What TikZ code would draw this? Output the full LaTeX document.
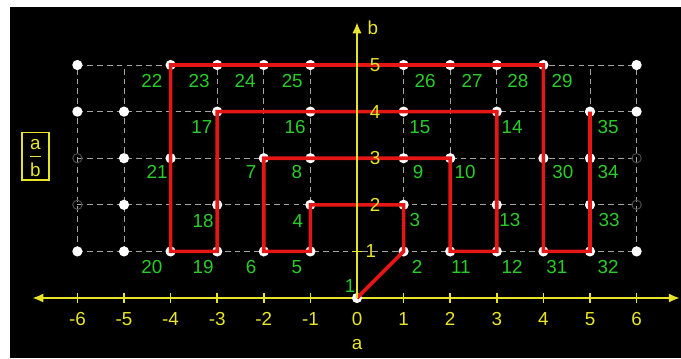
\documentclass[tikz,border=0pt]{standalone}
\usepackage{fontspec}
\setmainfont{Liberation Sans}
\usetikzlibrary{arrows.meta,calc}
\definecolor{kgreen}{RGB}{40,205,40}
\definecolor{kyellow}{RGB}{232,228,40}
\definecolor{kred}{RGB}{228,22,22}
\definecolor{kgrid}{RGB}{165,165,165}
\tikzset{
  gridline/.style={kgrid, line width=0.6pt, dash pattern=on 3.5pt off 2.5pt},
  axisline/.style={kyellow, line width=1.3pt},
  walk/.style={kred, line width=2.2pt},
  dot/.style={circle, fill=white, inner sep=0pt, minimum size=0.22cm},
  hollowdot/.style={circle, draw=kgrid!45!black, line width=0.6pt, inner sep=0pt, minimum size=0.2cm},
  numlabel/.style={kgreen, inner sep=0pt, anchor=center},
  axislabel/.style={kyellow, inner sep=0pt, anchor=center}
}
\begin{document}
\begin{tikzpicture}[x=1cm, y=1cm, font=\fontsize{11.5}{13}\selectfont]
\useasboundingbox (-7.661,-1.288) rectangle (6.953,6.395);
\fill[white] (-7.661,-1.288) rectangle (6.953,6.395);
\fill[black] (-7.446,-1.288) rectangle (6.953,6.245);

% grid
\foreach \x in {-6,...,-1,1,2,...,6} \draw[gridline] (\x,1) -- (\x,5);
\foreach \y in {1,...,5} \draw[gridline] (-6,\y) -- (6,\y);

% x axis
\coordinate (O) at (0,0);
\coordinate (xl) at (-6.97,0);
\coordinate (xr) at (6.93,0);
\coordinate (yt) at (0,5.92);
\draw[axisline, {Latex[length=0.24cm,width=0.2cm]}-{Latex[length=0.24cm,width=0.2cm]}] (xl) -- (xr);
\foreach \x in {-6,...,6} \draw[axisline, line width=1pt] (\x,-0.1) -- (\x,0.1);

% fraction box
\node[draw=kyellow, line width=0.8pt, minimum width=0.58cm, minimum height=1.02cm, inner sep=0pt] (fracbox) at (-6.9,3.04) {};
\node[axislabel] (fa) at ($(fracbox.center)+(0,0.26)$) {a};
\node[axislabel] (fb) at ($(fracbox.center)+(0,-0.28)$) {b};
\coordinate (fl) at ($(fracbox.center)+(-0.11,0)$);
\coordinate (fr) at ($(fracbox.center)+(0.11,0)$);
\draw[kyellow, line width=0.8pt] (fl) -- (fr);

% dots
\foreach \x in {-6,-4,-3,-2,-1,1,2,3,4,6} \node[dot] (d\x y5) at (\x,5) {};
\foreach \x in {-6,-5,-3,-1,1,3,5,6} \node[dot] (d\x y4) at (\x,4) {};
\foreach \x in {-5,-4,-2,-1,1,2,4,5} \node[dot] (d\x y3) at (\x,3) {};
\foreach \x in {-5,-3,-1,1,3,5} \node[dot] (d\x y2) at (\x,2) {};
\foreach \x in {-6,...,-1,1,2,...,6} \node[dot] (d\x y1) at (\x,1) {};
\node[dot] (d0y0) at (0,0) {};
\foreach \x/\y in {-6/3,6/3,-6/2,6/2} \node[hollowdot] (h\x y\y) at (\x,\y) {};

% red path
\foreach \i/\x/\y in {0/0/0,1/1/1,2/1/2,3/-1/2,4/-1/1,5/-2/1,6/-2/3,7/2/3,8/2/1,9/3/1,10/3/4,11/-3/4,12/-3/1,13/-4/1,14/-4/5,15/4/5,16/4/1,17/5/1,18/5/4}
  \coordinate (c\i) at (\x,\y);
\draw[walk] (c0) -- (c1) -- (c2) -- (c3) -- (c4) -- (c5) -- (c6) -- (c7) -- (c8) -- (c9) -- (c10) -- (c11) -- (c12) -- (c13) -- (c14) -- (c15) -- (c16) -- (c17) -- (c18);

% y axis on top
\draw[axisline, -{Latex[length=0.24cm,width=0.2cm]}] (O) -- (yt);
\draw[axisline, line width=1pt] (-0.1,1) -- (0.1,1);

% axis labels
\foreach \x in {-6,...,6} \node[axislabel] (xt\x) at (\x,-0.45) {\x};
\node[axislabel] (yl1) at (0.3,1) {1};
\foreach \y in {2,...,5} \node[axislabel] (yl\y) at (0.39,\y) {\y};
\node[axislabel] (alab) at (0,-1.0) {a};
\node[axislabel] (blab) at (0.34,5.79) {b};

% green labels
\foreach \n/\a/\b in {1/-0.15/0.26, 2/1.29/0.67, 3/1.24/1.67, 4/-1.27/1.65, 5/-1.29/0.67,
  6/-2.27/0.67, 7/-2.27/2.70, 8/-1.29/2.70, 9/1.31/2.70, 10/2.32/2.70,
  11/2.23/0.67, 12/3.33/0.67, 13/3.28/1.67, 14/3.33/3.67, 15/1.35/3.67,
  16/-1.33/3.67, 17/-3.33/3.67, 18/-3.30/1.65, 19/-3.30/0.67, 20/-4.40/0.67,
  21/-4.29/2.70, 22/-4.40/4.66, 23/-3.39/4.66, 24/-2.40/4.66, 25/-1.39/4.66,
  26/1.46/4.66, 27/2.47/4.66, 28/3.45/4.66, 29/4.40/4.66, 30/4.42/2.70,
  31/4.29/0.67, 32/5.39/0.67, 33/5.41/1.67, 34/5.39/2.70, 35/5.39/3.67}
  \node[numlabel] (l\n) at (\a,\b) {\n};
\end{tikzpicture}
\end{document}
